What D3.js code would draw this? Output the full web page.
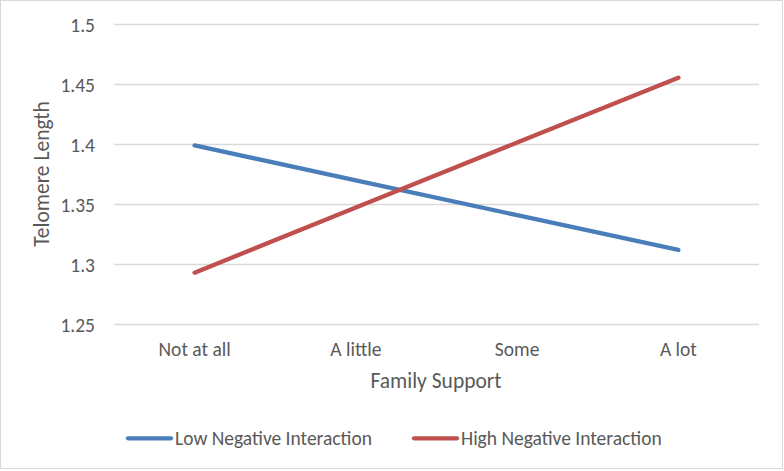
<!DOCTYPE html>
<html><head><meta charset="utf-8">
<script src="https://cdn.jsdelivr.net/npm/d3@7"></script>
<style>body{margin:0;background:#fff}svg{display:block}text{font-family:Carlito,Lato,"Open Sans",sans-serif;fill:#595959}</style>
</head><body><svg id="c" width="784" height="471"></svg>
<script>
const categories = ["Not at all", "A little", "Some", "A lot"];
const lowNeg = [1.3988, 1.3697, 1.3407, 1.3117];
const highNeg = [1.2928, 1.3470, 1.4012, 1.4553];
const yTicks = [1.25, 1.3, 1.35, 1.4, 1.45, 1.5];
const seriesNames = ["Low Negative Interaction", "High Negative Interaction"];
const colors = ["#4A7EBB", "#C0504D"];

const svg = d3.select("#c");
svg.append("rect").attr("x",0.5).attr("y",0.5).attr("width",782).attr("height",468)
  .attr("fill","#fff").attr("stroke","#d9d9d9");

const x = d3.scaleBand().domain(categories).range([114, 759]);
const y = d3.scaleLinear().domain([1.25, 1.5]).range([324, 24]);

const gy = svg.append("g").attr("transform","translate(114,0)")
  .call(d3.axisLeft(y).tickValues(yTicks).tickSize(-645).tickPadding(19).tickFormat(d => d3.format("")(d)));
gy.select(".domain").remove();
gy.selectAll("line").attr("stroke","#d9d9d9").attr("stroke-width",1.3);
gy.selectAll("text").style("font-size","19.5px").attr("fill","#595959").attr("dy","0.38em");

const gx = svg.append("g").attr("transform","translate(0,324)")
  .call(d3.axisBottom(x).tickSize(0).tickPadding(18));
gx.select(".domain").remove();
gx.selectAll("text").style("font-size","19.5px").attr("fill","#595959").attr("dy",0).attr("y",32);

const line = d3.line().x((d,i) => x(categories[i]) + x.bandwidth()/2).y(d => y(d));
[lowNeg, highNeg].forEach((s,i) => {
  svg.append("path").datum(s).attr("d", line).attr("fill","none")
    .attr("stroke", colors[i]).attr("stroke-width",4.3).attr("stroke-linecap","round");
});

svg.append("text").attr("transform","translate(49,174) rotate(-90)")
  .attr("text-anchor","middle").style("font-size","21.5px").text("Telomere Length");
svg.append("text").attr("x",436).attr("y",388)
  .attr("text-anchor","middle").style("font-size","21.5px").text("Family Support");

const legX = [127, 413];
seriesNames.forEach((n,i) => {
  svg.append("line").attr("x1",legX[i]+1).attr("x2",legX[i]+44).attr("y1",438.3).attr("y2",438.3)
    .attr("stroke",colors[i]).attr("stroke-width",4.3).attr("stroke-linecap","round");
  svg.append("text").attr("x",legX[i]+48).attr("y",445).style("font-size","19.5px").text(n);
});
</script></body></html>
